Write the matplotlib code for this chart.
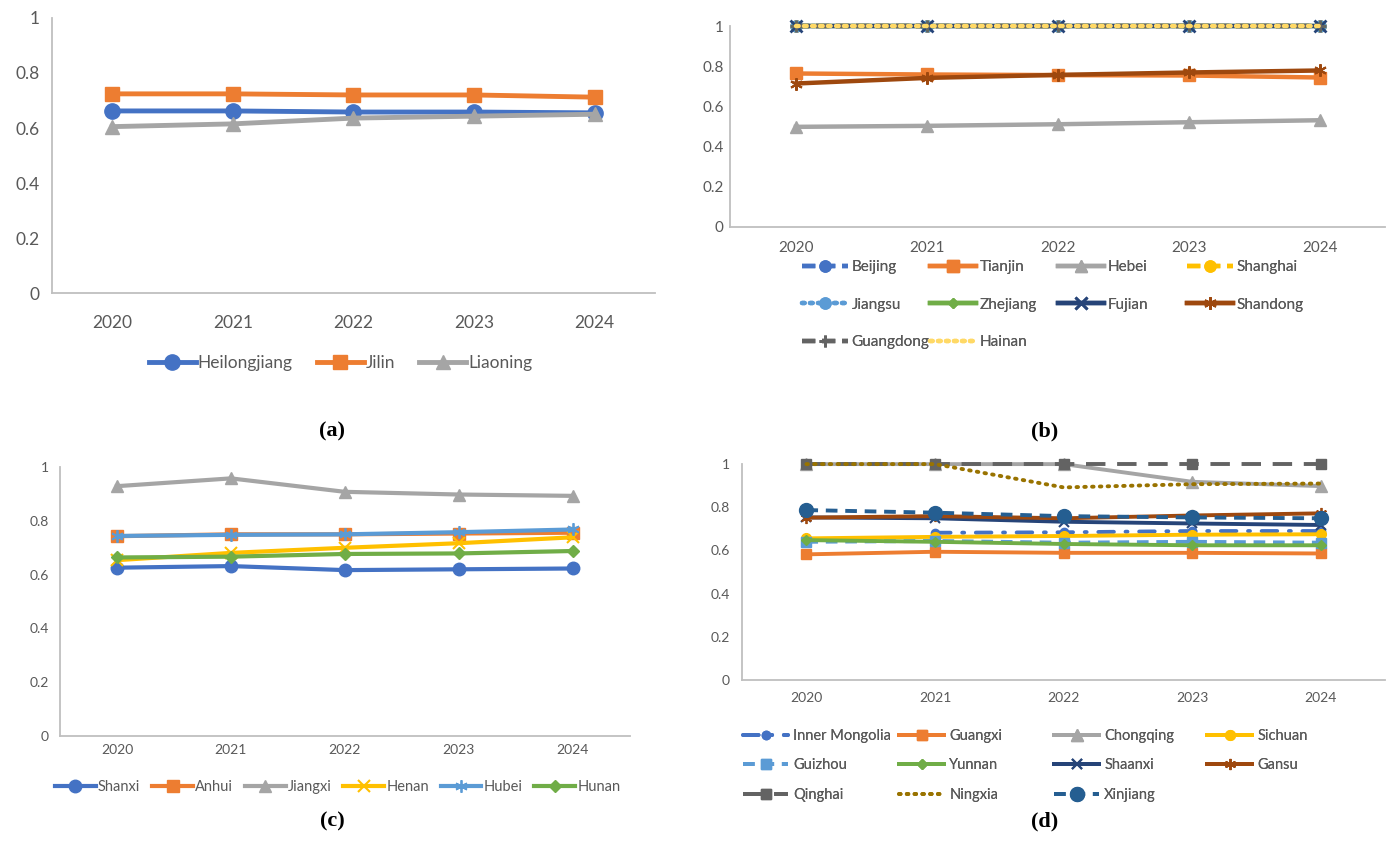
import numpy as np
import matplotlib
matplotlib.use('Agg')
import matplotlib.pyplot as plt
from matplotlib.ticker import FuncFormatter

plt.rcParams['font.family'] = ['Lato', 'DejaVu Sans']

years = ['2020', '2021', '2022', '2023', '2024']

# (a) north-east
heilongjiang = [0.662, 0.662, 0.658, 0.658, 0.655]
jilin = [0.724, 0.724, 0.720, 0.720, 0.712]
liaoning = [0.605, 0.615, 0.636, 0.643, 0.650]

# (b) east
beijing = [1, 1, 1, 1, 1]
tianjin = [0.765, 0.760, 0.757, 0.755, 0.745]
hebei = [0.499, 0.504, 0.512, 0.522, 0.532]
shanghai = [1, 1, 1, 1, 1]
jiangsu = [1, 1, 1, 1, 1]
zhejiang = [1, 1, 1, 1, 1]
fujian = [1, 1, 1, 1, 1]
shandong = [0.715, 0.743, 0.758, 0.770, 0.780]
guangdong = [1, 1, 1, 1, 1]
hainan = [1, 1, 1, 1, 1]

# (c) central
shanxi = [0.626, 0.632, 0.617, 0.620, 0.623]
anhui = [0.743, 0.750, 0.750, 0.753, 0.756]
jiangxi = [0.929, 0.958, 0.908, 0.898, 0.893]
henan = [0.654, 0.681, 0.700, 0.717, 0.739]
hubei = [0.744, 0.748, 0.750, 0.758, 0.768]
hunan = [0.664, 0.667, 0.677, 0.679, 0.688]

# (d) west
inner_mongolia = [np.nan, 0.682, 0.684, 0.690, 0.690]
guangxi = [0.582, 0.594, 0.589, 0.589, 0.586]
chongqing = [1, 1, 1, 0.918, 0.898]
sichuan = [0.656, 0.663, 0.667, 0.673, 0.675]
guizhou = [0.640, 0.644, 0.636, 0.640, 0.636]
yunnan = [0.648, 0.640, 0.630, 0.624, 0.624]
shaanxi = [0.753, 0.749, 0.733, 0.725, 0.718]
gansu = [0.752, 0.759, 0.749, 0.762, 0.772]
qinghai = [1, 1, 1, 1, 1]
ningxia = [1, 1, 0.892, 0.907, 0.910]
xinjiang = [0.787, 0.775, 0.759, 0.753, 0.749]

BLUE = '#4472C4'
ORANGE = '#ED7D31'
GRAY = '#A5A5A5'
GOLD = '#FFC000'
LBLUE = '#5B9BD5'
GREEN = '#70AD47'
DBLUE = '#264478'
BROWN = '#9E480E'
DGRAY = '#636363'
OLIVE = '#997300'
XBLUE = '#255E91'
TXT = '#595959'
AST = (6, 2, 0)


def style_axes(ax, fs, xpad, ypad):
    ax.set_ylim(0, 1)
    ax.set_xlim(-0.5, 4.5)
    ax.set_yticks([0, 0.2, 0.4, 0.6, 0.8, 1])
    ax.yaxis.set_major_formatter(FuncFormatter(lambda v, p: f'{v:g}'))
    for s in ['top', 'right']:
        ax.spines[s].set_visible(False)
    for s in ['left', 'bottom']:
        ax.spines[s].set_color('#BFBFBF')
        ax.spines[s].set_linewidth(1.3)
    ax.tick_params(length=0, labelsize=fs, labelcolor=TXT)
    ax.tick_params(axis='x', pad=xpad)
    ax.tick_params(axis='y', pad=ypad)
    for ln in ax.get_lines():
        ln.set_clip_on(False)


def column_legends(fig, handles, ncol, xs, ytop, fs, hlen, tpad, lspace):
    # excel-style grid legend: fill row by row, fixed column positions
    for c in range(ncol):
        col = handles[c::ncol]
        leg = fig.legend(handles=col, loc='upper left', bbox_to_anchor=(xs[c] / 1386, ytop),
                         frameon=False, fontsize=fs, labelcolor=TXT, handlelength=hlen,
                         handletextpad=tpad, labelspacing=lspace, borderpad=0,
                         borderaxespad=0, numpoints=1)
        fig.add_artist(leg)


fig = plt.figure(figsize=(13.86, 8.5), dpi=100)

# ---- (a)
ax = fig.add_axes([0.0375, 0.655, 0.435, 0.324])
ax.plot(years, heilongjiang, color=BLUE, lw=3.5, marker='o', ms=11, label='Heilongjiang')
ax.plot(years, jilin, color=ORANGE, lw=3.5, marker='s', ms=10, label='Jilin')
ax.plot(years, liaoning, color=GRAY, lw=3.5, marker='^', ms=10, label='Liaoning')
style_axes(ax, 12.5, 16, 9)
ax.legend(loc='center', bbox_to_anchor=(0.2457, 0.573), bbox_transform=fig.transFigure,
          ncol=3, frameon=False, fontsize=12.5, labelcolor=TXT, handlelength=2.7,
          handletextpad=0.1, columnspacing=1.4, numpoints=1)

# ---- (b)
ax = fig.add_axes([0.527, 0.733, 0.4726, 0.236])
lw = 3.2
hs = []
hs += ax.plot(years, beijing, color=BLUE, lw=lw, ls=(0, (3, 1.5)), marker='o', ms=8, label='Beijing')
hs += ax.plot(years, tianjin, color=ORANGE, lw=lw, marker='s', ms=8, label='Tianjin')
hs += ax.plot(years, hebei, color=GRAY, lw=lw, marker='^', ms=9, label='Hebei')
hs += ax.plot(years, shanghai, color=GOLD, lw=lw, ls=(0, (3, 1.5)), marker='o', ms=8, label='Shanghai')
hs += ax.plot(years, jiangsu, color=LBLUE, lw=lw, ls=(0, (0.6, 1.2)), dash_capstyle='round',
              marker='o', ms=8, label='Jiangsu')
hs += ax.plot(years, zhejiang, color=GREEN, lw=lw, marker='D', ms=5, label='Zhejiang')
hs += ax.plot(years, fujian, color=DBLUE, lw=lw, marker='x', ms=8, mew=2, label='Fujian')
hs += ax.plot(years, shandong, color=BROWN, lw=lw, marker=AST, ms=9, mew=1.5, label='Shandong')
hs += ax.plot(years, guangdong, color=DGRAY, lw=lw, ls=(0, (3, 1.5)), marker='+', ms=8, mew=2, label='Guangdong')
hs += ax.plot(years, hainan, color='#FFD966', lw=lw, ls=(0, (0.6, 1.2)), dash_capstyle='round', label='Hainan')
style_axes(ax, 11, 10, 5)
column_legends(fig, hs, 4, [802, 930, 1058, 1187], 1 - 260 / 850, 11, 3.0, 0.25, 1.55)

# ---- (c)
ax = fig.add_axes([0.0433, 0.134, 0.411, 0.3165])
lw = 3
ax.plot(years, shanxi, color=BLUE, lw=lw, marker='o', ms=9, label='Shanxi')
ax.plot(years, anhui, color=ORANGE, lw=lw, marker='s', ms=8, label='Anhui')
ax.plot(years, jiangxi, color=GRAY, lw=lw, marker='^', ms=9, label='Jiangxi')
ax.plot(years, henan, color=GOLD, lw=lw, marker='x', ms=8, mew=1.5, label='Henan')
ax.plot(years, hubei, color=LBLUE, lw=lw, marker=AST, ms=9, mew=1.3, label='Hubei')
ax.plot(years, hunan, color=GREEN, lw=lw, marker='D', ms=6, label='Hunan')
style_axes(ax, 10, 6, 8)
ax.legend(loc='center', bbox_to_anchor=(0.2437, 0.074), bbox_transform=fig.transFigure,
          ncol=6, frameon=False, fontsize=10.5, labelcolor=TXT, handlelength=2.8,
          handletextpad=0.15, columnspacing=0.8, numpoints=1)

# ---- (d)
ax = fig.add_axes([0.5354, 0.2, 0.464, 0.254])
lw = 2.8
hs = []
hs += ax.plot(years, inner_mongolia, color=BLUE, lw=lw, ls=(0, (4, 3, 0.5, 3)), dash_capstyle='round',
              marker='o', ms=6, label='Inner Mongolia')
hs += ax.plot(years, guangxi, color=ORANGE, lw=lw, marker='s', ms=7, label='Guangxi')
hs += ax.plot(years, chongqing, color=GRAY, lw=lw, marker='^', ms=8, label='Chongqing')
hs += ax.plot(years, sichuan, color=GOLD, lw=lw, marker='o', ms=7, label='Sichuan')
hs += ax.plot(years, guizhou, color=LBLUE, lw=lw, ls=(0, (3, 2)), marker='s', ms=7, label='Guizhou')
hs += ax.plot(years, yunnan, color=GREEN, lw=lw, marker='D', ms=5, label='Yunnan')
hs += ax.plot(years, shaanxi, color=DBLUE, lw=lw, marker='x', ms=7, mew=1.5, label='Shaanxi')
hs += ax.plot(years, gansu, color=BROWN, lw=lw, marker=AST, ms=8, mew=1.3, label='Gansu')
hs += ax.plot(years, qinghai, color=DGRAY, lw=lw, ls=(0, (5, 3)), marker='s', ms=7, label='Qinghai')
hs += ax.plot(years, ningxia, color=OLIVE, lw=lw, ls=(0, (0.4, 1.6)), dash_capstyle='round', label='Ningxia')
hs += ax.plot(years, xinjiang, color=XBLUE, lw=lw, ls=(0, (3, 2)), marker='o', ms=10, label='Xinjiang')
style_axes(ax, 10, 9, 9)
column_legends(fig, hs, 4, [743, 899, 1054, 1207], 1 - 729 / 850, 10.5, 3.1, 0.35, 1.06)

# panel letters
for lab, x, y in [('(a)', 0.2395, 0.492), ('(b)', 0.754, 0.492),
                  ('(c)', 0.2395, 0.033), ('(d)', 0.754, 0.033)]:
    fig.text(x, y, lab, ha='center', va='center', fontsize=16, fontweight='bold',
             family=['Liberation Serif', 'DejaVu Serif'])

fig.savefig('out.png', dpi=100)
